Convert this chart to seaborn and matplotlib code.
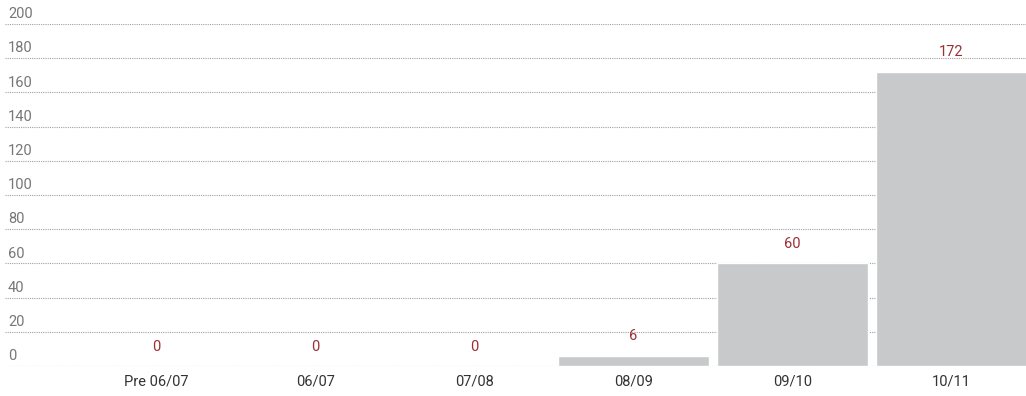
import matplotlib
matplotlib.use("Agg")
import matplotlib.pyplot as plt
import matplotlib.transforms as mtransforms
import seaborn as sns
import pandas as pd

seasons = ["Pre 06/07", "06/07", "07/08", "08/09", "09/10", "10/11"]
counts = [0, 0, 0, 6, 60, 172]
yticks = [0, 20, 40, 60, 80, 100, 120, 140, 160, 180, 200]

df = pd.DataFrame({"season": seasons, "count": counts})

sns.set_style("white")
plt.rcParams["font.family"] = ["Liberation Sans Narrow", "Roboto", "DejaVu Sans"]

fig = plt.figure(figsize=(10.26, 3.96), dpi=100)
ax = fig.add_axes([5 / 1026, 30 / 396, 1021 / 1026, 342 / 396])

sns.barplot(data=df, x="season", y="count", color="#c8c9cb", saturation=1,
            width=0.95, ax=ax, zorder=2)
ax.set_xlim(-0.95, 5.47)
ax.set_ylim(0, 200)

# dotted gridlines drawn over the bars, labels sit above each line
ax.set_yticks(yticks)
ax.yaxis.grid(True, linestyle=(0, (1, 1)), color="#a0a0a0", linewidth=0.8)
for gl in ax.get_ygridlines():
    gl.set_zorder(3)
ax.set_yticklabels([])
ax.tick_params(axis="y", length=0)
shift = mtransforms.ScaledTranslation(0, 2 / 72, fig.dpi_scale_trans)
for t in yticks:
    ax.text(0.003, t, str(t), transform=ax.get_yaxis_transform() + shift,
            ha="left", va="bottom", fontsize=10.5, color="#777777")

for i, v in enumerate(counts):
    ax.annotate(str(v), (i, v), xytext=(0, 14), textcoords="offset points",
                ha="center", va="center", fontsize=10.5, color="#9b2f35")

ax.set_xlabel("")
ax.set_ylabel("")
ax.tick_params(axis="x", length=0, pad=6, labelsize=10.5, labelcolor="#333333")
sns.despine(ax=ax, left=True, bottom=True, top=True, right=True)

fig.savefig("out.png", dpi=100)
